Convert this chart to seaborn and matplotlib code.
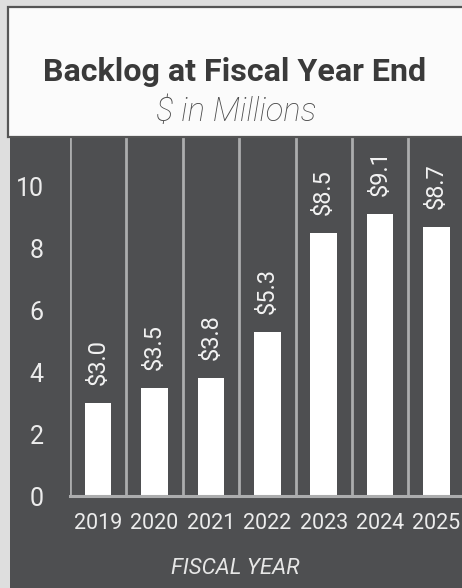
import matplotlib
matplotlib.use("Agg")
import matplotlib.pyplot as plt
from matplotlib.patches import Rectangle
import seaborn as sns
import pandas as pd

years = ["2019", "2020", "2021", "2022", "2023", "2024", "2025"]
backlog = [3.0, 3.5, 3.8, 5.3, 8.5, 9.1, 8.7]
labels = ["$3.0", "$3.5", "$3.8", "$5.3", "$8.5", "$9.1", "$8.7"]
yticks = [0, 2, 4, 6, 8, 10]

df = pd.DataFrame({"year": years, "backlog": backlog})

sns.set_theme(style="white")
plt.rcParams["font.family"] = ["Roboto", "DejaVu Sans"]

W, H = 462, 588
fig = plt.figure(figsize=(W / 100, H / 100), dpi=100)
fig.patch.set_facecolor("#dedede")

panel = "#4e4f51"
fig.patches.append(Rectangle((10 / W, 0), 1, 1 - 135 / H, transform=fig.transFigure,
                             facecolor=panel, edgecolor="none", zorder=-5))

ax = fig.add_axes([70 / W, 1 - 496 / H, (462 - 70) / W + 0.01, (496 - 137) / H])
ax.set_zorder(1)
ax.set_facecolor(panel)

sns.barplot(data=df, x="year", y="backlog", color="white", width=0.47,
            saturation=1, ax=ax, zorder=3)
for p in ax.patches:
    p.set_edgecolor("none")

ax.bar_label(ax.containers[0], labels=labels, rotation=90, padding=13,
             color="#f2f2f2", fontsize=17)

ax.set_ylim(0, 11.6)
ax.set_xlim(-0.5, 6.535)
ax.set_yticks(yticks)
ax.set_yticklabels([str(t) for t in yticks])
ax.set_xticks(range(len(years)), minor=False)
ax.set_xticks([i - 0.5 for i in range(len(years) + 1)], minor=True)
ax.grid(True, which="minor", axis="x", color="#acadae", linewidth=2.0, zorder=1)
ax.grid(False, which="major")

ax.tick_params(axis="both", which="both", length=0)
ax.tick_params(axis="y", colors="#ececec", labelsize=18, pad=19)
ax.tick_params(axis="x", colors="#ececec", labelsize=15.5, pad=12)

for s in ["top", "right", "left"]:
    ax.spines[s].set_visible(False)
ax.spines["bottom"].set_color("#acadae")
ax.spines["bottom"].set_linewidth(2.2)
ax.spines["bottom"].set_zorder(4)

ax.set_ylabel("")
ax.set_xlabel("FISCAL YEAR", color="#e6e6e6", fontsize=16, style="italic")
ax.xaxis.set_label_coords((235 - 70) / ((462 - 70) + 0.01 * W), -(558 - 496) / (496 - 137))

# title box
fig.patches.append(Rectangle((8 / W, 1 - 137 / H), 470 / W, 130 / H, transform=fig.transFigure,
                             facecolor="#fbfbfb", edgecolor="#555555", linewidth=1.6, zorder=5))
fig.text(235 / W, 1 - 72 / H, "Backlog at Fiscal Year End", ha="center", va="center",
         fontsize=23.2, fontweight="bold", color="#3a3a3a", zorder=6)
fig.text(236 / W, 1 - 112 / H, "$ in Millions", ha="center", va="center",
         fontsize=23.5, fontstyle="italic", fontweight="light", color="#4a4a4a", zorder=6)

fig.savefig("out.png", dpi=100)
